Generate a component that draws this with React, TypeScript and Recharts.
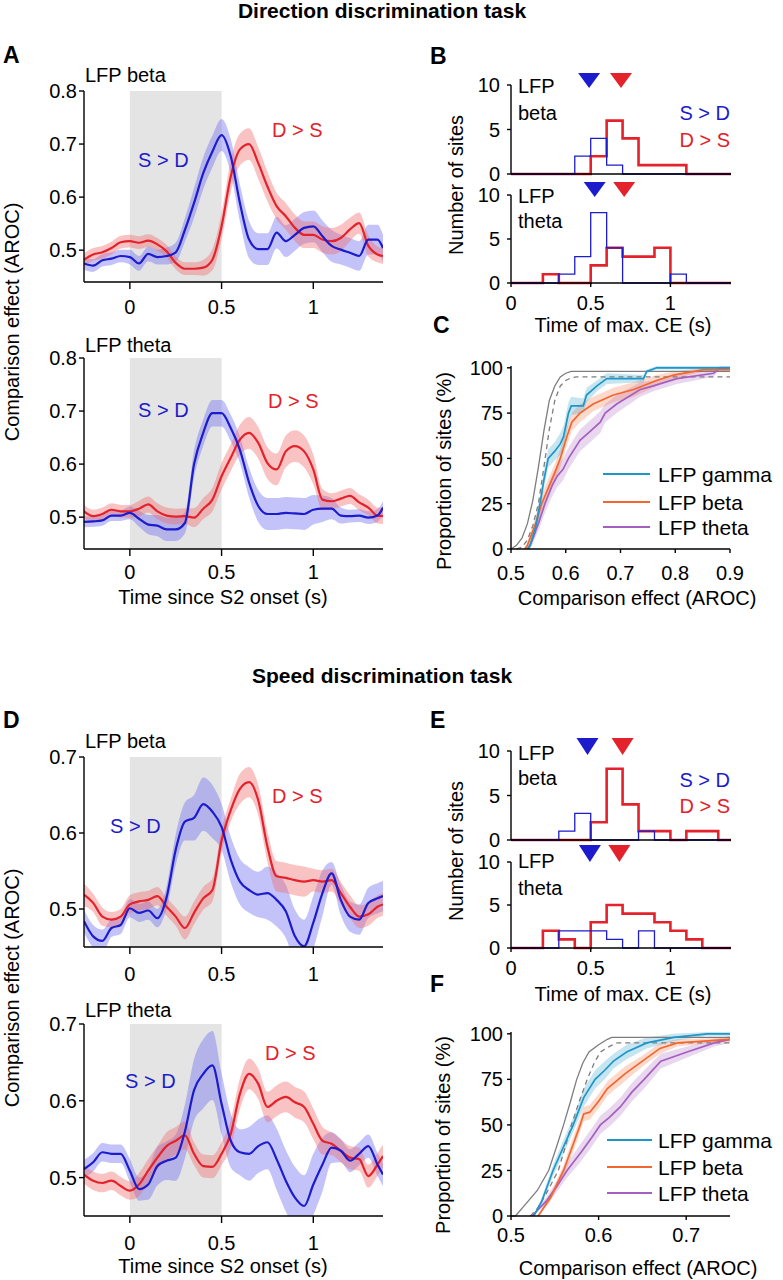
import React from 'react';
import { ComposedChart, Line, Area, XAxis, YAxis, ReferenceArea, ReferenceDot } from 'recharts';

const FONT = '"Liberation Sans", Arial, Helvetica, sans-serif';
const BLUE = '#1c1ccc';
const RED = '#e3222b';
const BLUE_BAND = '#6a6af2';
const RED_BAND = '#f26a6a';
const SHADE = '#e4e4e4';
const GAMMA = '#1d96c8';
const BETA = '#f2662f';
const THETA = '#a45fbf';
const GRAY = '#7d7d7d';

// ---------- time courses (panels A, D) ----------
const TIME = [-0.25, -0.2, -0.15, -0.1, -0.05, 0, 0.05, 0.1, 0.15, 0.2, 0.25, 0.3, 0.35, 0.4, 0.45, 0.5, 0.55, 0.6, 0.65, 0.7, 0.75, 0.8, 0.85, 0.9, 0.95, 1.0, 1.05, 1.1, 1.15, 1.2, 1.25, 1.3, 1.35, 1.38];

const A_BETA_SD = [0.475, 0.471, 0.481, 0.484, 0.489, 0.487, 0.475, 0.493, 0.487, 0.489, 0.496, 0.538, 0.589, 0.645, 0.686, 0.717, 0.677, 0.589, 0.52, 0.502, 0.502, 0.533, 0.517, 0.529, 0.542, 0.545, 0.526, 0.508, 0.501, 0.495, 0.489, 0.52, 0.52, 0.504];
const A_BETA_SD_ERR = [0.012, 0.012, 0.012, 0.012, 0.012, 0.014, 0.014, 0.014, 0.014, 0.016, 0.018, 0.022, 0.028, 0.03, 0.03, 0.03, 0.032, 0.035, 0.035, 0.03, 0.03, 0.03, 0.03, 0.03, 0.03, 0.03, 0.03, 0.03, 0.028, 0.028, 0.028, 0.028, 0.028, 0.025];
const A_BETA_DS = [0.482, 0.492, 0.496, 0.504, 0.515, 0.517, 0.514, 0.518, 0.511, 0.498, 0.476, 0.465, 0.465, 0.467, 0.482, 0.545, 0.639, 0.69, 0.70, 0.664, 0.62, 0.583, 0.564, 0.542, 0.529, 0.529, 0.52, 0.517, 0.523, 0.539, 0.551, 0.508, 0.492, 0.489];
const A_BETA_DS_ERR = [0.012, 0.012, 0.012, 0.012, 0.012, 0.012, 0.012, 0.012, 0.012, 0.012, 0.012, 0.012, 0.012, 0.015, 0.02, 0.025, 0.03, 0.03, 0.03, 0.03, 0.028, 0.025, 0.025, 0.025, 0.025, 0.025, 0.025, 0.025, 0.025, 0.022, 0.02, 0.02, 0.015, 0.015];

const A_THETA_SD = [0.491, 0.492, 0.494, 0.503, 0.503, 0.508, 0.497, 0.486, 0.484, 0.477, 0.477, 0.489, 0.6, 0.659, 0.696, 0.696, 0.668, 0.627, 0.565, 0.521, 0.506, 0.506, 0.508, 0.507, 0.506, 0.514, 0.516, 0.516, 0.503, 0.502, 0.503, 0.499, 0.503, 0.518];
const A_THETA_SD_ERR = [0.01, 0.01, 0.01, 0.01, 0.01, 0.012, 0.015, 0.018, 0.02, 0.022, 0.022, 0.02, 0.025, 0.025, 0.025, 0.025, 0.025, 0.025, 0.028, 0.03, 0.03, 0.03, 0.03, 0.03, 0.03, 0.028, 0.025, 0.02, 0.015, 0.012, 0.012, 0.012, 0.012, 0.012];
const A_THETA_DS = [0.511, 0.502, 0.506, 0.514, 0.511, 0.511, 0.516, 0.524, 0.511, 0.503, 0.501, 0.502, 0.499, 0.516, 0.533, 0.577, 0.612, 0.646, 0.659, 0.64, 0.602, 0.59, 0.624, 0.634, 0.624, 0.59, 0.533, 0.53, 0.535, 0.54, 0.528, 0.518, 0.503, 0.502];
const A_THETA_DS_ERR = [0.012, 0.012, 0.012, 0.012, 0.012, 0.012, 0.015, 0.015, 0.015, 0.015, 0.015, 0.015, 0.018, 0.02, 0.022, 0.025, 0.025, 0.028, 0.03, 0.03, 0.03, 0.03, 0.03, 0.03, 0.03, 0.028, 0.02, 0.015, 0.015, 0.015, 0.015, 0.015, 0.015, 0.015];

const D_BETA_SD = [0.484, 0.464, 0.458, 0.475, 0.479, 0.501, 0.495, 0.498, 0.488, 0.515, 0.578, 0.615, 0.62, 0.638, 0.628, 0.608, 0.565, 0.536, 0.525, 0.519, 0.521, 0.512, 0.497, 0.464, 0.451, 0.482, 0.521, 0.547, 0.512, 0.49, 0.486, 0.508, 0.514, 0.517];
const D_BETA_SD_ERR = [0.015, 0.015, 0.015, 0.012, 0.012, 0.012, 0.012, 0.012, 0.012, 0.015, 0.02, 0.025, 0.03, 0.035, 0.035, 0.03, 0.03, 0.03, 0.03, 0.03, 0.035, 0.035, 0.035, 0.035, 0.035, 0.035, 0.03, 0.015, 0.02, 0.02, 0.02, 0.02, 0.02, 0.02];
const D_BETA_DS = [0.519, 0.508, 0.49, 0.486, 0.49, 0.506, 0.51, 0.512, 0.517, 0.503, 0.49, 0.475, 0.495, 0.514, 0.525, 0.59, 0.63, 0.658, 0.667, 0.643, 0.582, 0.543, 0.541, 0.538, 0.536, 0.538, 0.536, 0.538, 0.521, 0.503, 0.49, 0.493, 0.503, 0.506];
const D_BETA_DS_ERR = [0.015, 0.012, 0.012, 0.01, 0.01, 0.012, 0.012, 0.012, 0.012, 0.012, 0.012, 0.015, 0.015, 0.015, 0.015, 0.015, 0.015, 0.02, 0.02, 0.02, 0.02, 0.02, 0.02, 0.02, 0.02, 0.015, 0.015, 0.015, 0.015, 0.015, 0.015, 0.015, 0.015, 0.015];

const D_THETA_SD = [0.511, 0.52, 0.533, 0.531, 0.531, 0.509, 0.485, 0.491, 0.515, 0.522, 0.526, 0.56, 0.614, 0.635, 0.646, 0.596, 0.548, 0.533, 0.531, 0.541, 0.546, 0.524, 0.496, 0.474, 0.463, 0.491, 0.517, 0.539, 0.535, 0.522, 0.531, 0.541, 0.517, 0.504];
const D_THETA_SD_ERR = [0.012, 0.012, 0.012, 0.012, 0.012, 0.015, 0.015, 0.02, 0.025, 0.025, 0.03, 0.035, 0.04, 0.045, 0.045, 0.04, 0.035, 0.03, 0.035, 0.035, 0.035, 0.04, 0.04, 0.04, 0.04, 0.04, 0.035, 0.02, 0.015, 0.015, 0.015, 0.015, 0.015, 0.015];
const D_THETA_DS = [0.504, 0.496, 0.493, 0.496, 0.489, 0.483, 0.491, 0.509, 0.526, 0.541, 0.548, 0.555, 0.531, 0.515, 0.514, 0.531, 0.557, 0.609, 0.635, 0.622, 0.592, 0.6, 0.605, 0.598, 0.592, 0.57, 0.548, 0.544, 0.535, 0.526, 0.524, 0.502, 0.517, 0.528];
const D_THETA_DS_ERR = [0.012, 0.012, 0.012, 0.012, 0.012, 0.012, 0.015, 0.015, 0.015, 0.018, 0.018, 0.018, 0.015, 0.015, 0.015, 0.015, 0.018, 0.02, 0.02, 0.02, 0.02, 0.02, 0.02, 0.02, 0.02, 0.02, 0.018, 0.015, 0.015, 0.015, 0.015, 0.015, 0.015, 0.015];

// ---------- histograms (panels B, E) ----------
const HIST_EDGES = [0, 0.1, 0.2, 0.3, 0.4, 0.5, 0.6, 0.7, 0.8, 0.9, 1.0, 1.1, 1.2, 1.3, 1.38];
const B_BETA_SD = [0, 0, 0, 0, 2, 4, 1, 0, 0, 0, 0, 0, 0, 0, 0];
const B_BETA_DS = [0, 0, 0, 0, 0, 2, 6, 4, 1, 1, 1, 0, 0, 0, 0];
const B_THETA_SD = [0, 0, 0, 1, 3, 8, 4, 0, 0, 0, 1, 0, 0, 0, 0];
const B_THETA_DS = [0, 0, 1, 0, 0, 2, 4, 3, 3, 4, 0, 0, 0, 0, 0];
const E_BETA_SD = [0, 0, 0, 1, 3, 0, 0, 0, 1, 0, 0, 0, 0, 0, 0];
const E_BETA_DS = [0, 0, 0, 0, 0, 2, 8, 4, 1, 1, 0, 1, 1, 0, 0];
const E_THETA_SD = [0, 0, 0, 2, 2, 2, 1, 0, 2, 0, 0, 0, 0, 0, 0];
const E_THETA_DS = [0, 0, 2, 1, 0, 3, 5, 4, 4, 3, 2, 1, 0, 0, 0];
// medians (triangles): [S>D, D>S]
const B_BETA_MED = [0.49, 0.69];
const B_THETA_MED = [0.525, 0.71];
const E_BETA_MED = [0.48, 0.70];
const E_THETA_MED = [0.495, 0.68];

// ---------- cumulative distributions (panels C, F) ----------
const C_NULL_X = [0.5, 0.51, 0.52, 0.53, 0.54, 0.55, 0.56, 0.57, 0.58, 0.59, 0.6, 0.61, 0.9];
const C_NULL_Y = [0, 2, 6, 14, 27, 45, 65, 82, 90, 95, 97, 98, 98];
const C_NULL2_X = [0.51, 0.52, 0.53, 0.54, 0.55, 0.56, 0.57, 0.58, 0.59, 0.6, 0.61, 0.62, 0.9];
const C_NULL2_Y = [0, 1, 5, 13, 25, 45, 66, 82, 90, 93, 94.5, 95, 95];
const C_GAMMA_X = [0.53, 0.535, 0.545, 0.553, 0.56, 0.568, 0.58, 0.59, 0.596, 0.605, 0.61, 0.632, 0.638, 0.657, 0.675, 0.742, 0.748, 0.766, 0.9];
const C_GAMMA_Y = [0, 2, 12, 25, 38, 50, 54, 58, 62, 75, 79, 79, 85, 90, 94, 94, 98, 100, 100];
const C_GAMMA_E = [0, 2, 4, 5, 5, 5, 5, 6, 6, 6, 5, 4, 4, 3, 3, 2, 1, 1, 1];
const C_BETA_X = [0.525, 0.53, 0.545, 0.556, 0.57, 0.58, 0.59, 0.602, 0.611, 0.626, 0.65, 0.687, 0.724, 0.766, 0.797, 0.852, 0.9];
const C_BETA_Y = [0, 2, 14, 25, 35, 42, 50, 62, 70, 75, 80, 85, 88, 93, 96, 99, 99];
const C_BETA_E = [0, 2, 4, 5, 5, 5, 5, 5, 5, 5, 4, 4, 4, 3, 2, 1, 1];
const C_THETA_X = [0.53, 0.535, 0.55, 0.562, 0.575, 0.584, 0.595, 0.605, 0.626, 0.645, 0.663, 0.672, 0.693, 0.736, 0.76, 0.803, 0.87, 0.882, 0.9];
const C_THETA_Y = [0, 2, 14, 25, 35, 40, 44, 50, 60, 65, 70, 75, 80, 88, 90, 94, 97, 100, 100];
const C_THETA_E = [0, 2, 4, 5, 6, 6, 6, 6, 6, 6, 6, 5, 5, 4, 3, 3, 2, 1, 1];

const F_NULL_X = [0.5, 0.505, 0.514, 0.53, 0.543, 0.552, 0.56, 0.568, 0.575, 0.582, 0.589, 0.6, 0.61, 0.615, 0.75];
const F_NULL_Y = [0, 0, 5, 14, 25, 38, 50, 63, 75, 84, 90, 94, 97, 98, 98];
const F_NULL2_X = [0.522, 0.53, 0.54, 0.554, 0.562, 0.569, 0.578, 0.587, 0.595, 0.602, 0.612, 0.621, 0.75];
const F_NULL2_Y = [0, 4, 12, 25, 38, 50, 63, 75, 84, 90, 93, 95, 95];
const F_GAMMA_X = [0.526, 0.535, 0.548, 0.56, 0.571, 0.583, 0.596, 0.607, 0.617, 0.632, 0.655, 0.686, 0.724, 0.75];
const F_GAMMA_Y = [0, 8, 25, 38, 50, 65, 75, 80, 85, 90, 95, 98, 100, 100];
const F_GAMMA_E = [0, 2, 3, 4, 4, 5, 5, 5, 4, 4, 3, 2, 1, 1];
const F_BETA_X = [0.531, 0.545, 0.56, 0.57, 0.579, 0.583, 0.59, 0.6, 0.61, 0.63, 0.65, 0.67, 0.69, 0.75];
const F_BETA_Y = [0, 10, 25, 38, 50, 56, 57, 63, 70, 78, 85, 92, 95, 97];
const F_BETA_E = [0, 2, 3, 4, 4, 4, 4, 4, 4, 4, 3, 3, 2, 1];
const F_THETA_X = [0.524, 0.54, 0.552, 0.564, 0.58, 0.592, 0.602, 0.612, 0.625, 0.638, 0.652, 0.671, 0.701, 0.732, 0.75];
const F_THETA_Y = [0, 8, 16, 25, 35, 43, 50, 54, 60, 68, 75, 85, 90, 95, 97];
const F_THETA_E = [0, 2, 3, 4, 5, 5, 5, 5, 5, 5, 5, 4, 3, 2, 2];

const tickStyle = { fill: '#000', fontSize: 20, fontFamily: FONT };
const axisLine = { stroke: '#000', strokeWidth: 1.4 };

type Row = { t: number; bm: number; be: number; rm: number; re: number };
const buildRows = (bm: number[], be: number[], rm: number[], re: number[]): Row[] =>
  TIME.map((t, i) => ({ t, bm: bm[i], be: be[i], rm: rm[i], re: re[i] }));

function TimeChart(props: { left: number; top: number; plotH: number; dom: [number, number]; ticks: number[]; rows: Row[]; tickMargin: number }) {
  const YW = 50, MT = 14, MR = 20, XH = 40, plotW = 299;
  return (
    <div style={{ position: 'absolute', left: props.left - YW, top: props.top - MT }}>
      <ComposedChart width={YW + plotW + MR} height={MT + props.plotH + XH} data={props.rows} margin={{ top: MT, right: MR, left: 0, bottom: 0 }}>
        <ReferenceArea x1={0} x2={0.5} y1={props.dom[0]} y2={props.dom[1]} fill={SHADE} fillOpacity={1} stroke="none" ifOverflow="hidden" />
        <XAxis type="number" dataKey="t" domain={[-0.25, 1.38]} ticks={[0, 0.5, 1]} interval={0} allowDataOverflow height={XH}
          tick={tickStyle} tickSize={7} tickMargin={props.tickMargin} axisLine={axisLine} tickLine={axisLine} tickFormatter={(v: number) => String(v)} />
        <YAxis type="number" domain={props.dom} ticks={props.ticks} interval={0} allowDataOverflow width={YW}
          tick={tickStyle} tickSize={5} tickMargin={2} axisLine={axisLine} tickLine={axisLine} tickFormatter={(v: number) => v.toFixed(1)} />
        <Area type="monotone" dataKey={(d: Row) => [d.bm - d.be, d.bm + d.be]} stroke="none" fill={BLUE_BAND} fillOpacity={0.4} isAnimationActive={false} activeDot={false} />
        <Area type="monotone" dataKey={(d: Row) => [d.rm - d.re, d.rm + d.re]} stroke="none" fill={RED_BAND} fillOpacity={0.4} isAnimationActive={false} activeDot={false} />
        <Line type="monotone" dataKey="rm" stroke={RED} strokeWidth={2.2} dot={false} isAnimationActive={false} />
        <Line type="monotone" dataKey="bm" stroke={BLUE} strokeWidth={2.2} dot={false} isAnimationActive={false} />
      </ComposedChart>
    </div>
  );
}

const tri = (color: string, up: number, down: number) => (p: any) => (
  <polygon points={`${p.cx - 11},${p.cy - up} ${p.cx + 11},${p.cy - up} ${p.cx},${p.cy + down}`} fill={color} />
);

function HistChart(props: { top: number; plotH: number; sd: number[]; ds: number[]; med: number[]; labels: boolean; triUp: number; triDown: number }) {
  const YW = 50, MT = 18, MR = 20, plotW = 220;
  const XH = props.labels ? 40 : 14;
  const rows = HIST_EDGES.map((e, i) => ({ e, b: props.sd[i], r: props.ds[i] }));
  return (
    <div style={{ position: 'absolute', left: 511 - YW, top: props.top - MT }}>
      <ComposedChart width={YW + plotW + MR} height={MT + props.plotH + XH} data={rows} margin={{ top: MT, right: MR, left: 0, bottom: 0 }}>
        <XAxis type="number" dataKey="e" domain={[0, 1.38]} ticks={[0, 0.5, 1]} interval={0} allowDataOverflow height={XH}
          tick={props.labels ? tickStyle : false} tickSize={4} tickMargin={9} axisLine={axisLine} tickLine={axisLine} tickFormatter={(v: number) => String(v)} />
        <YAxis type="number" domain={[0, 10]} ticks={[0, 5, 10]} interval={0} width={YW}
          tick={tickStyle} tickSize={4} tickMargin={7} axisLine={axisLine} tickLine={axisLine} />
        <Line type="stepAfter" dataKey="r" stroke={RED} strokeWidth={2.6} dot={false} isAnimationActive={false} />
        <Line type="stepAfter" dataKey="b" stroke={BLUE} strokeWidth={1.3} dot={false} isAnimationActive={false} />
        <ReferenceDot x={props.med[0]} y={10} r={0} shape={tri(BLUE, props.triUp, props.triDown)} ifOverflow="visible" />
        <ReferenceDot x={props.med[1]} y={10} r={0} shape={tri(RED, props.triUp, props.triDown)} ifOverflow="visible" />
      </ComposedChart>
    </div>
  );
}

const pts = (xs: number[], ys: number[], es?: number[]) =>
  xs.map((x, i) => ({ x, y: ys[i], lo: es ? ys[i] - es[i] : 0, hi: es ? ys[i] + es[i] : 0 }));

type Curve = { xs: number[]; ys: number[]; es: number[]; color: string };

function CdfChart(props: { top: number; plotH: number; dom: [number, number]; ticks: number[]; nullA: number[][]; nullB: number[][]; curves: Curve[]; tickMargin: number }) {
  const YW = 50, MT = 14, MR = 24, XH = 40, plotW = 219;
  return (
    <div style={{ position: 'absolute', left: 511 - YW, top: props.top - MT }}>
      <ComposedChart width={YW + plotW + MR} height={MT + props.plotH + XH} margin={{ top: MT, right: MR, left: 0, bottom: 0 }}>
        <XAxis type="number" dataKey="x" domain={props.dom} ticks={props.ticks} interval={0} allowDataOverflow height={XH}
          tick={tickStyle} tickSize={4} tickMargin={props.tickMargin} axisLine={axisLine} tickLine={axisLine} tickFormatter={(v: number) => String(v)} />
        <YAxis type="number" domain={[0, 100]} ticks={[0, 25, 50, 75, 100]} interval={0} width={YW}
          tick={tickStyle} tickSize={4} tickMargin={4} axisLine={axisLine} tickLine={axisLine} />
        {props.curves.map((c, i) => (
          <Area key={'a' + i} data={pts(c.xs, c.ys, c.es)} type="linear" dataKey={(d: any) => [d.lo, d.hi]} stroke="none" fill={c.color} fillOpacity={0.25} isAnimationActive={false} activeDot={false} />
        ))}
        <Line data={pts(props.nullA[0], props.nullA[1])} type="linear" dataKey="y" stroke={GRAY} strokeWidth={1.3} dot={false} isAnimationActive={false} />
        <Line data={pts(props.nullB[0], props.nullB[1])} type="linear" dataKey="y" stroke={GRAY} strokeWidth={1.3} strokeDasharray="5 4" dot={false} isAnimationActive={false} />
        {props.curves.map((c, i) => (
          <Line key={'l' + i} data={pts(c.xs, c.ys)} type="linear" dataKey="y" stroke={c.color} strokeWidth={1.7} dot={false} isAnimationActive={false} />
        ))}
      </ComposedChart>
    </div>
  );
}

const T = (p: { x: number; y: number; c?: string; s?: number; b?: boolean; a?: 'start' | 'middle' | 'end'; r?: boolean; children: React.ReactNode }) => (
  <text x={p.x} y={p.y} fill={p.c || '#000'} fontSize={p.s || 20} fontWeight={p.b ? 'bold' : 'normal'} textAnchor={p.a || 'start'}
    fontFamily={FONT} transform={p.r ? `rotate(-90 ${p.x} ${p.y})` : undefined}>{p.children}</text>
);

const LEGEND = [
  { name: 'LFP gamma', color: GAMMA },
  { name: 'LFP beta', color: BETA },
  { name: 'LFP theta', color: THETA },
];

function Legend(props: { x1: number; x2: number; ys: number[] }) {
  return (
    <g>
      {LEGEND.map((l, i) => (
        <g key={l.name}>
          <line x1={props.x1} x2={props.x2} y1={props.ys[i]} y2={props.ys[i]} stroke={l.color} strokeWidth={1.8} />
          <T x={658} y={props.ys[i] + 8} s={21}>{l.name}</T>
        </g>
      ))}
    </g>
  );
}

export default function App() {
  return (
    <div style={{ position: 'absolute', left: 0, top: 0, width: 783, height: 1280, background: '#fff', overflow: 'hidden', fontFamily: FONT }}>
      <TimeChart left={84} top={91} plotH={191} dom={[0.44, 0.8]} ticks={[0.5, 0.6, 0.7, 0.8]} rows={buildRows(A_BETA_SD, A_BETA_SD_ERR, A_BETA_DS, A_BETA_DS_ERR)} tickMargin={11} />
      <TimeChart left={84} top={358} plotH={191} dom={[0.44, 0.8]} ticks={[0.5, 0.6, 0.7, 0.8]} rows={buildRows(A_THETA_SD, A_THETA_SD_ERR, A_THETA_DS, A_THETA_DS_ERR)} tickMargin={9} />
      <TimeChart left={84} top={757} plotH={190} dom={[0.45, 0.7]} ticks={[0.5, 0.6, 0.7]} rows={buildRows(D_BETA_SD, D_BETA_SD_ERR, D_BETA_DS, D_BETA_DS_ERR)} tickMargin={13} />
      <TimeChart left={84} top={1024} plotH={192} dom={[0.45, 0.7]} ticks={[0.5, 0.6, 0.7]} rows={buildRows(D_THETA_SD, D_THETA_SD_ERR, D_THETA_DS, D_THETA_DS_ERR)} tickMargin={13} />

      <HistChart top={85} plotH={89} sd={B_BETA_SD} ds={B_BETA_DS} med={B_BETA_MED} labels={false} triUp={12} triDown={3} />
      <HistChart top={195} plotH={88} sd={B_THETA_SD} ds={B_THETA_DS} med={B_THETA_MED} labels={true} triUp={13} triDown={2} />
      <HistChart top={751} plotH={89} sd={E_BETA_SD} ds={E_BETA_DS} med={E_BETA_MED} labels={false} triUp={13} triDown={4} />
      <HistChart top={862} plotH={86} sd={E_THETA_SD} ds={E_THETA_DS} med={E_THETA_MED} labels={true} triUp={17} triDown={0} />

      <CdfChart top={366} plotH={183} dom={[0.5, 0.9]} ticks={[0.5, 0.6, 0.7, 0.8, 0.9]} nullA={[C_NULL_X, C_NULL_Y]} nullB={[C_NULL2_X, C_NULL2_Y]} tickMargin={13}
        curves={[{ xs: C_THETA_X, ys: C_THETA_Y, es: C_THETA_E, color: THETA }, { xs: C_BETA_X, ys: C_BETA_Y, es: C_BETA_E, color: BETA }, { xs: C_GAMMA_X, ys: C_GAMMA_Y, es: C_GAMMA_E, color: GAMMA }]} />
      <CdfChart top={1032} plotH={184} dom={[0.5, 0.75]} ticks={[0.5, 0.6, 0.7]} nullA={[F_NULL_X, F_NULL_Y]} nullB={[F_NULL2_X, F_NULL2_Y]} tickMargin={8}
        curves={[{ xs: F_THETA_X, ys: F_THETA_Y, es: F_THETA_E, color: THETA }, { xs: F_BETA_X, ys: F_BETA_Y, es: F_BETA_E, color: BETA }, { xs: F_GAMMA_X, ys: F_GAMMA_Y, es: F_GAMMA_E, color: GAMMA }]} />

      <svg width={783} height={1280} style={{ position: 'absolute', left: 0, top: 0, pointerEvents: 'none' }}>
        <T x={382} y={18} s={21} b a="middle">Direction discrimination task</T>
        <T x={382} y={683} s={21} b a="middle">Speed discrimination task</T>
        <T x={3} y={63} s={23} b>A</T>
        <T x={430} y={64} s={23} b>B</T>
        <T x={433} y={333} s={23} b>C</T>
        <T x={3} y={728} s={23} b>D</T>
        <T x={430} y={728} s={23} b>E</T>
        <T x={430} y={992} s={23} b>F</T>

        <T x={85} y={82}>LFP beta</T>
        <T x={85} y={352}>LFP theta</T>
        <T x={85} y={748}>LFP beta</T>
        <T x={85} y={1017}>LFP theta</T>

        <T x={518} y={93}>LFP</T>
        <T x={518} y={120}>beta</T>
        <T x={518} y={203}>LFP</T>
        <T x={518} y={228}>theta</T>
        <T x={518} y={760}>LFP</T>
        <T x={518} y={785}>beta</T>
        <T x={518} y={868}>LFP</T>
        <T x={518} y={895}>theta</T>

        <T x={138} y={167} c={BLUE}>S &gt; D</T>
        <T x={272} y={137} c={RED}>D &gt; S</T>
        <T x={138} y={417} c={BLUE}>S &gt; D</T>
        <T x={268} y={408} c={RED}>D &gt; S</T>
        <T x={110} y={833} c={BLUE}>S &gt; D</T>
        <T x={272} y={803} c={RED}>D &gt; S</T>
        <T x={125} y={1088} c={BLUE}>S &gt; D</T>
        <T x={265} y={1060} c={RED}>D &gt; S</T>
        <T x={730} y={120} c={BLUE} a="end">S &gt; D</T>
        <T x={730} y={147} c={RED} a="end">D &gt; S</T>
        <T x={730} y={787} c={BLUE} a="end">S &gt; D</T>
        <T x={730} y={813} c={RED} a="end">D &gt; S</T>

        <T x={223} y={604} a="middle">Time since S2 onset (s)</T>
        <T x={223} y={1273} a="middle">Time since S2 onset (s)</T>
        <T x={623} y={332} a="middle">Time of max. CE (s)</T>
        <T x={623} y={1001} a="middle">Time of max. CE (s)</T>
        <T x={637} y={605} a="middle">Comparison effect (AROC)</T>
        <T x={638} y={1275} a="middle">Comparison effect (AROC)</T>

        <T x={19} y={322} a="middle" r>Comparison effect (AROC)</T>
        <T x={19} y={988} a="middle" r>Comparison effect (AROC)</T>
        <T x={463} y={185} a="middle" r>Number of sites</T>
        <T x={463} y={851} a="middle" r>Number of sites</T>
        <T x={451} y={471} a="middle" r>Proportion of sites (%)</T>
        <T x={450} y={1135} a="middle" r>Proportion of sites (%)</T>

        <Legend x1={603} x2={650} ys={[474, 502, 527]} />
        <Legend x1={607} x2={652} ys={[1140, 1167, 1193]} />
      </svg>
    </div>
  );
}
